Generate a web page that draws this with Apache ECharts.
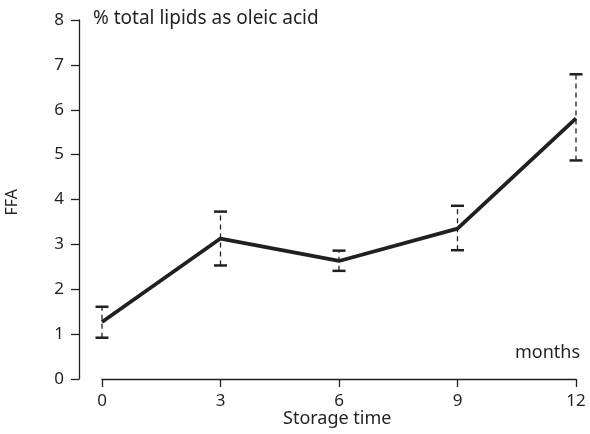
<!DOCTYPE html>
<html><head><meta charset="utf-8">
<script src="https://cdn.jsdelivr.net/npm/echarts@6/dist/echarts.min.js"></script>
<style>html,body{margin:0;padding:0;background:#fff}#c{width:590px;height:434px}</style>
</head><body><div id="c"></div>
<script>
var months = [0, 3, 6, 9, 12];
var ffaMean = [1.27, 3.13, 2.63, 3.35, 5.81];
var ffaLow = [0.92, 2.53, 2.41, 2.87, 4.87];
var ffaHigh = [1.61, 3.73, 2.86, 3.86, 6.79];
var yTicks = [0, 1, 2, 3, 4, 5, 6, 7, 8];

var font = '"Noto Sans", sans-serif';
var txt = '#231f20';
var chart = echarts.init(document.getElementById('c'), null, {renderer: 'canvas'});
chart.setOption({
  animation: false,
  grid: {left: 102, right: 14, top: 20, bottom: 55},
  xAxis: {
    type: 'value', min: 0, max: 12, interval: 3,
    axisLine: {onZero: false, lineStyle: {color: txt, width: 1.3}},
    axisTick: {length: 8, lineStyle: {color: txt, width: 1.3}},
    axisLabel: {color: txt, fontFamily: font, fontSize: 17, margin: 14},
    splitLine: {show: false}
  },
  yAxis: {
    type: 'value', min: yTicks[0], max: yTicks[yTicks.length - 1], interval: 1,
    offset: 23,
    axisLine: {show: true, onZero: false, lineStyle: {color: txt, width: 1.3}},
    axisTick: {show: true, length: 8, lineStyle: {color: txt, width: 1.3}},
    axisLabel: {color: txt, fontFamily: font, fontSize: 17, margin: 15},
    splitLine: {show: false}
  },
  graphic: [
    {type: 'text', left: 93, top: 9, style: {text: '% total lipids as oleic acid', fill: txt, font: '19px ' + font}},
    {type: 'text', right: 10, top: 344, style: {text: 'months', fill: txt, font: '18px ' + font}},
    {type: 'text', left: 283, top: 410, style: {text: 'Storage time', fill: txt, font: '18px ' + font}},
    {type: 'text', left: 4, top: 189, rotation: Math.PI / 2, originX: 0, originY: 0,
     style: {text: 'FFA', fill: txt, font: '16px ' + font}}
  ],
  series: [
    {
      type: 'line', data: months.map(function (m, i) { return [m, ffaMean[i]]; }),
      symbol: 'none', lineStyle: {color: txt, width: 3.8}, z: 3
    },
    {
      type: 'custom', z: 2,
      data: months.map(function (m, i) { return [m, ffaLow[i], ffaHigh[i]]; }),
      renderItem: function (params, api) {
        var lo = api.coord([api.value(0), api.value(1)]);
        var hi = api.coord([api.value(0), api.value(2)]);
        var hw = 6.5;
        return {
          type: 'group',
          children: [
            {type: 'line', shape: {x1: lo[0], y1: lo[1], x2: hi[0], y2: hi[1]},
             style: {stroke: txt, lineWidth: 1.3, lineDash: [5, 4]}},
            {type: 'line', shape: {x1: lo[0] - hw, y1: lo[1], x2: lo[0] + hw, y2: lo[1]},
             style: {stroke: txt, lineWidth: 2.5}},
            {type: 'line', shape: {x1: hi[0] - hw, y1: hi[1], x2: hi[0] + hw, y2: hi[1]},
             style: {stroke: txt, lineWidth: 2.5}}
          ]
        };
      }
    }
  ]
});
</script></body></html>
